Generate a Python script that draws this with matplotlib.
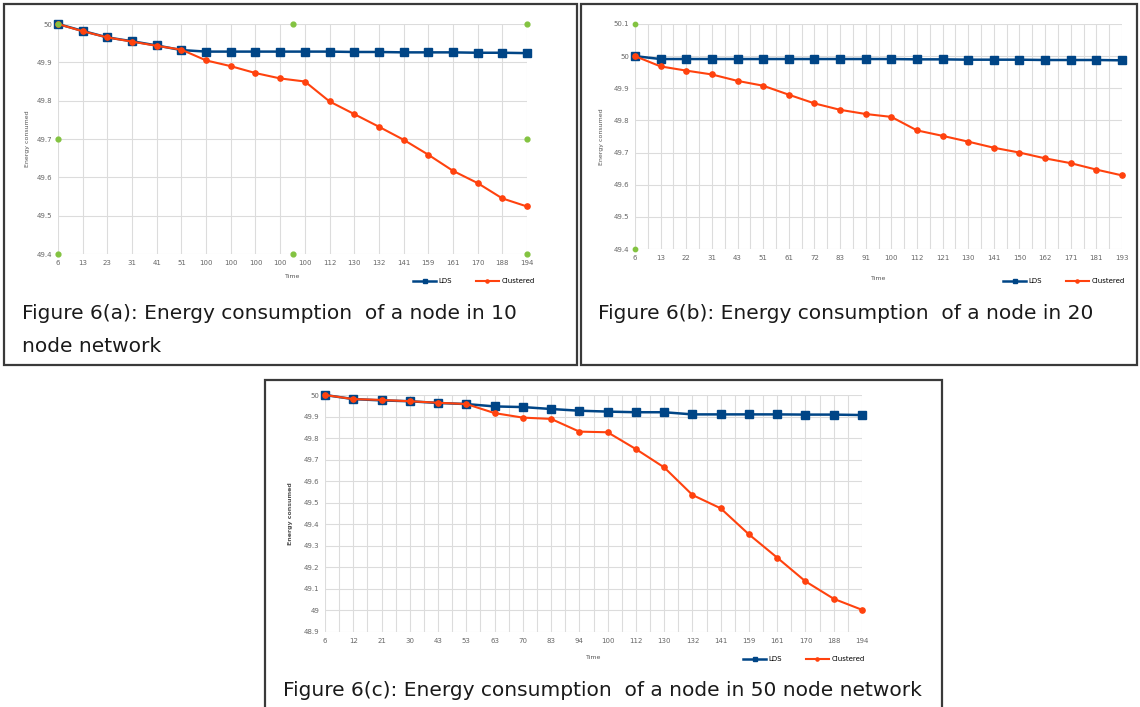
import matplotlib
matplotlib.use("Agg")
import matplotlib.pyplot as plt
from matplotlib.patches import Rectangle

W, H = 1140, 707

# Panel (a): 10 node network
time_a = ["6", "13", "23", "31", "41", "51", "100", "100", "100", "100", "100",
          "112", "130", "132", "141", "159", "161", "170", "188", "194"]
lds_a = [50.0, 49.982, 49.965, 49.955, 49.944, 49.932, 49.928, 49.928, 49.928, 49.928,
         49.928, 49.928, 49.927, 49.927, 49.926, 49.926, 49.926, 49.925, 49.925, 49.924]
clus_a = [50.0, 49.981, 49.965, 49.954, 49.943, 49.933, 49.905, 49.890, 49.872, 49.858,
          49.850, 49.798, 49.765, 49.732, 49.698, 49.659, 49.617, 49.585, 49.545, 49.524]
green_x_a = [0, 9.5, 19, 0, 19, 0, 9.5, 19]
green_y_a = [50.0, 50.0, 50.0, 49.7, 49.7, 49.4, 49.4, 49.4]

# Panel (b): 20 node network
time_b = ["6", "13", "22", "31", "43", "51", "61", "72", "83", "91", "100",
          "112", "121", "130", "141", "150", "162", "171", "181", "193"]
lds_b = [50.0, 49.991, 49.991, 49.991, 49.991, 49.991, 49.991, 49.991, 49.991, 49.991,
         49.991, 49.990, 49.990, 49.989, 49.989, 49.989, 49.988, 49.988, 49.988, 49.987]
clus_b = [50.0, 49.968, 49.955, 49.943, 49.923, 49.908, 49.880, 49.853, 49.833, 49.820,
          49.811, 49.769, 49.752, 49.734, 49.715, 49.700, 49.682, 49.667, 49.647, 49.629]
green_x_b = [0, 0]
green_y_b = [50.1, 49.4]

# Panel (c): 50 node network
time_c = ["6", "12", "21", "30", "43", "53", "63", "70", "83", "94", "100",
          "112", "130", "132", "141", "159", "161", "170", "188", "194"]
lds_c = [50.0, 49.981, 49.975, 49.971, 49.963, 49.958, 49.947, 49.944, 49.935, 49.927,
         49.923, 49.920, 49.920, 49.910, 49.910, 49.910, 49.910, 49.909, 49.909, 49.907]
clus_c = [50.0, 49.981, 49.977, 49.971, 49.964, 49.958, 49.916, 49.895, 49.889, 49.830,
          49.827, 49.749, 49.664, 49.536, 49.474, 49.353, 49.245, 49.135, 49.054, 49.003]

BLUE = "#004586"
ORANGE = "#ff420e"
GREEN = "#83c341"
GRID = "#dcdcdc"


def rect(x0, y0, x1, y1):
    # pixel box (top-left origin) -> figure fraction
    return [x0 / W, 1 - y1 / H, (x1 - x0) / W, (y1 - y0) / H]


fig = plt.figure(figsize=(W / 100, H / 100), dpi=100)
fig.patch.set_facecolor("white")

# outer frames
for x0, y0, x1, y1 in [(4, 4, 577, 365), (581, 4, 1137, 365), (265, 380, 942, 712)]:
    fig.add_artist(Rectangle((x0 / W, 1 - y1 / H), (x1 - x0) / W, (y1 - y0) / H,
                             transform=fig.transFigure, fill=False,
                             edgecolor="#3a3a3a", lw=1.6))


def panel(box, labels, lds, clus, ylo, yhi, half_grid, ylab_x, time_y, leg_xy,
          bold_ylab=False):
    ax = fig.add_axes(rect(*box))
    n = len(labels)
    xs = list(range(n))
    ax.plot(xs, lds, color=BLUE, lw=1.8, marker="s", ms=5.5, clip_on=False,
            zorder=3, label="LDS")
    ax.plot(xs, clus, color=ORANGE, lw=1.5, marker="o", ms=3.8, clip_on=False,
            zorder=4, label="Clustered")
    ax.set_xlim(0, n - 1)
    ax.set_ylim(ylo, yhi)
    ax.set_xticks(xs)
    ax.set_xticklabels(labels)
    yt = [round(ylo + 0.1 * i, 1) for i in range(int(round((yhi - ylo) / 0.1)) + 1)]
    ax.set_yticks(yt)
    ax.set_yticklabels(["%g" % v for v in yt])
    if half_grid:
        ax.set_xticks([x + 0.5 for x in xs[:-1]], minor=True)
        ax.grid(True, which="minor", axis="x", color=GRID, lw=0.8)
    ax.grid(True, which="major", color=GRID, lw=0.8)
    ax.set_axisbelow(True)
    for s in ax.spines.values():
        s.set_visible(False)
    ax.tick_params(which="both", length=0, labelsize=5, labelcolor="#666666", pad=4)
    ax.set_ylabel("Energy consumed", fontsize=4.5, color="#555555",
                  fontweight="bold" if bold_ylab else "normal")
    x0, y0, x1, y1 = box
    ax.yaxis.set_label_coords((ylab_x - x0) / (x1 - x0), 0.5)
    ax.set_xlabel("Time", fontsize=4.5, color="#555555")
    ax.xaxis.set_label_coords(0.5, -(time_y - y1) / (y1 - y0))
    ax.legend(loc="center right", bbox_to_anchor=(leg_xy[0] / W, 1 - leg_xy[1] / H),
              bbox_transform=fig.transFigure, ncol=2, frameon=False, fontsize=5,
              handlelength=3.2, columnspacing=3.5, handletextpad=0.4,
              markerscale=0.6, borderpad=0)
    return ax


ax_a = panel((58, 24, 527, 254), time_a, lds_a, clus_a, 49.4, 50.0, False, 30, 274,
             (538, 281))
ax_a.scatter(green_x_a, green_y_a, s=12, color=GREEN, zorder=5, clip_on=False)

ax_b = panel((635, 24, 1122, 249), time_b, lds_b, clus_b, 49.4, 50.1, True, 604, 276,
             (1128, 281))
ax_b.scatter(green_x_b, green_y_b, s=10, color=GREEN, zorder=5, clip_on=False)

ax_c = panel((325, 395, 862, 632), time_c, lds_c, clus_c, 48.9, 50.0, True, 293, 655,
             (868, 659), bold_ylab=True)

cap = dict(fontsize=14.5, color="#1a1a1a", family=["DejaVu Sans"],
           va="center", ha="left")
fig.text(22 / W, 1 - 313 / H, "Figure 6(a): Energy consumption  of a node in 10", **cap)
fig.text(22 / W, 1 - 347 / H, "node network", **cap)
fig.text(598 / W, 1 - 313 / H, "Figure 6(b): Energy consumption  of a node in 20", **cap)
fig.text(283 / W, 1 - 691 / H,
         "Figure 6(c): Energy consumption  of a node in 50 node network", **cap)

fig.savefig("out.png", dpi=100, facecolor="white")
